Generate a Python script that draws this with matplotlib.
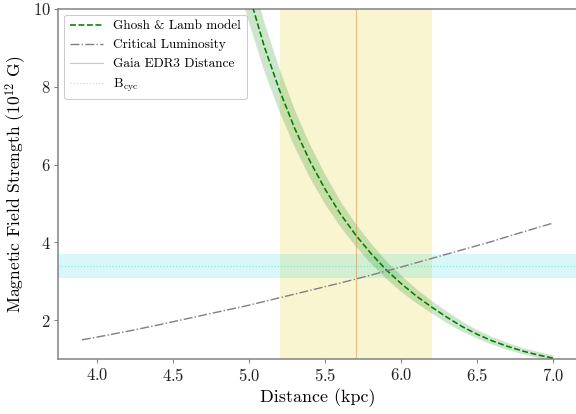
import matplotlib
matplotlib.use("Agg")
import matplotlib.pyplot as plt
import numpy as np

plt.rcParams['font.family'] = 'serif'
plt.rcParams['font.serif'] = ['cmr10', 'DejaVu Serif']
plt.rcParams['mathtext.fontset'] = 'cm'
plt.rcParams['axes.formatter.use_mathtext'] = True

# Ghosh & Lamb model
gl_dist = [4.95, 5.0, 5.1, 5.2, 5.3, 5.4, 5.5, 5.6, 5.7, 5.8, 5.9, 6.0, 6.1, 6.2, 6.3, 6.4, 6.5, 6.6, 6.7, 6.8, 6.9, 7.0]
gl_B = [11.09, 10.35, 9.02, 7.90, 6.92, 6.08, 5.36, 4.73, 4.19, 3.72, 3.30, 2.94, 2.62, 2.34, 2.08, 1.84, 1.64, 1.47, 1.33, 1.21, 1.11, 1.03]
gl_lo = [10.31, 9.63, 8.39, 7.35, 6.44, 5.65, 4.98, 4.40, 3.90, 3.46, 3.07, 2.73, 2.44, 2.18, 1.93, 1.71, 1.53, 1.37, 1.24, 1.13, 1.03, 0.96]
gl_hi = [11.87, 11.07, 9.65, 8.45, 7.40, 6.51, 5.74, 5.06, 4.48, 3.98, 3.53, 3.15, 2.80, 2.50, 2.23, 1.97, 1.75, 1.57, 1.42, 1.29, 1.19, 1.10]

# Critical luminosity curve
cl_dist = [3.9, 4.0, 4.2, 4.4, 4.6, 4.8, 5.0, 5.2, 5.4, 5.6, 5.8, 6.0, 6.2, 6.4, 6.6, 6.8, 7.0]
cl_B = [1.50, 1.57, 1.72, 1.88, 2.05, 2.22, 2.39, 2.58, 2.77, 2.96, 3.16, 3.37, 3.59, 3.81, 4.03, 4.27, 4.50]

# Gaia EDR3 distance and uncertainty
gaia_d = 5.7
gaia_lo, gaia_hi = 5.2, 6.2

# Cyclotron line field
bcyc = 3.4
bcyc_lo, bcyc_hi = 3.1, 3.7

fig = plt.figure(figsize=(8, 5.75), dpi=72)
ax = fig.add_axes([0.1012, 0.1321, 0.9005, 0.8469])

ax.axvspan(gaia_lo, gaia_hi, color='khaki', alpha=0.4, lw=0, zorder=0)
ax.axhspan(bcyc_lo, bcyc_hi, color='darkturquoise', alpha=0.15, lw=0, zorder=0)
ax.fill_between(gl_dist, gl_lo, gl_hi, color='green', alpha=0.2, lw=0, zorder=1)
ax.plot(gl_dist, gl_B, '--', color='green', lw=1.6, label='Ghosh & Lamb model', zorder=3)
ax.plot(cl_dist, cl_B, '-.', color='gray', lw=1.4, label='Critical Luminosity', zorder=3)
ax.axvline(gaia_d, color='peru', alpha=0.5, lw=1.1, label='Gaia EDR3 Distance', zorder=2)
ax.axhline(bcyc, color='c', alpha=0.35, lw=1.2, ls=':', label=r'B$_{\rm cyc}$', zorder=2)

ax.set_xlim(3.745, 7.155)
ax.set_ylim(1, 10)
ax.set_xticks([4.0, 4.5, 5.0, 5.5, 6.0, 6.5, 7.0])
ax.set_yticks([2, 4, 6, 8, 10])

for s in ax.spines.values():
    s.set_color('gray')
    s.set_linewidth(1.5)
ax.tick_params(colors='#222222', labelsize=16.5, length=4, width=1, color='gray')
ax.set_xlabel('Distance (kpc)', fontsize=18)
ax.set_ylabel(r'Magnetic Field Strength (10$^{12}$ G)', fontsize=17.5)

leg = ax.legend(loc='upper left', fontsize=13.3, frameon=True, fancybox=True,
                edgecolor='#cccccc', framealpha=1.0, handlelength=2.5,
                borderaxespad=0.45)

fig.savefig('out.png', dpi=72)
